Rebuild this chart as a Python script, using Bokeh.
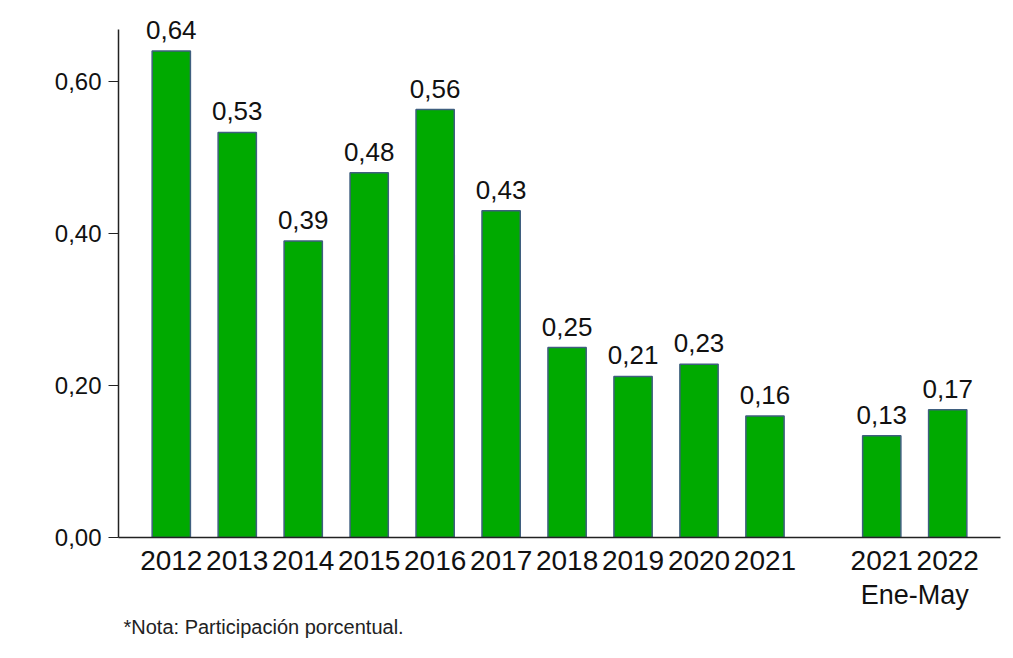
from bokeh.plotting import figure
from bokeh.models import (ColumnDataSource, FactorRange, FixedTicker, CustomJSTickFormatter,
                          LabelSet, Range1d, Title)
from bokeh.embed import file_html
from bokeh.resources import INLINE
from bokeh.core.properties import value

groups = ["", "", "", "", "", "", "", "", "", "", "Ene-May", "Ene-May"]
years = ["2012", "2013", "2014", "2015", "2016", "2017", "2018", "2019", "2020", "2021", "2021", "2022"]
values = [0.64, 0.533, 0.39, 0.48, 0.563, 0.43, 0.25, 0.212, 0.228, 0.16, 0.134, 0.168]
y_ticks = [0.0, 0.2, 0.4, 0.6]
note = "*Nota: Participación porcentual."

FONT = "Liberation Sans"
factors = list(zip(groups, years))
labels = [f"{v:.2f}".replace(".", ",") for v in values]
src = ColumnDataSource(dict(x=factors, top=values, label=labels))

W, H = 1005, 650
p = figure(width=W, height=H, output_backend="svg", toolbar_location=None,
           x_range=FactorRange(*factors, group_padding=0.77, factor_padding=0.0,
                               range_padding=0.3, range_padding_units="absolute"),
           y_range=Range1d(0, 0.70),
           min_border_left=118, min_border_right=5, min_border_top=5, min_border_bottom=113)
p.outline_line_color = None
p.grid.grid_line_color = None
p.background_fill_color = "white"
p.border_fill_color = "white"

p.vbar(x="x", top="top", width=0.58, source=src, fill_color="#00AA00",
       line_color="#3F5F7F", line_width=1.5)
p.add_layout(LabelSet(x="x", y="top", text="label", source=src, text_align="center",
                      text_baseline="alphabetic", y_offset=12, text_font=value(FONT),
                      text_font_size=value("26px"), text_color=value("#111111")))

ya = p.yaxis[0]
ya.ticker = FixedTicker(ticks=y_ticks)
ya.bounds = (0, 0.668)
ya.formatter = CustomJSTickFormatter(code="return tick.toFixed(2).replace('.', ',');")
ya.major_label_text_font = FONT
ya.major_label_text_font_size = "24px"
ya.major_label_text_color = "#111111"
ya.axis_line_color = "#222222"
ya.axis_line_width = 1.5
ya.major_tick_line_color = "#222222"
ya.major_tick_out = 10
ya.major_tick_in = 0
ya.minor_tick_line_color = None
ya.major_label_standoff = 7

xa = p.xaxis[0]
xa.axis_line_color = "#222222"
xa.axis_line_width = 1.5
xa.major_tick_line_color = None
xa.minor_tick_line_color = None
xa.major_label_text_font = FONT
xa.major_label_text_font_size = "28px"
xa.major_label_text_color = "#111111"
xa.major_label_orientation = "horizontal"
xa.group_text_font = FONT
xa.group_text_font_size = "27px"
xa.group_text_font_style = "normal"
xa.group_text_color = "#111111"
xa.group_label_orientation = "horizontal"
xa.separator_line_color = None
xa.major_label_standoff = 7

p.add_layout(Title(text=note, align="left", offset=5, text_font=FONT,
                   text_font_size="20px", text_font_style="normal",
                   text_color="#222222", standoff=3), "below")

open("out.html", "w").write(file_html(p, INLINE))
